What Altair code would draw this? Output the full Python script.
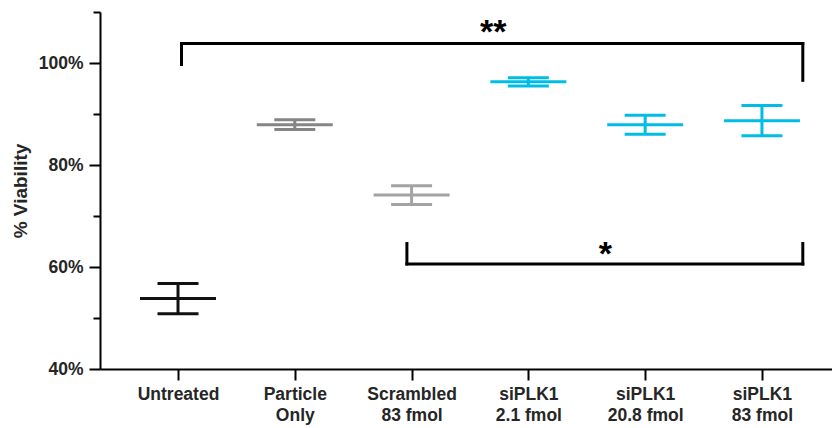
import altair as alt
import pandas as pd

# ---- data ----
groups = [["Untreated"], ["Particle", "Only"], ["Scrambled", "83 fmol"],
          ["siPLK1", "2.1 fmol"], ["siPLK1", "20.8 fmol"], ["siPLK1", "83 fmol"]]
group_ids = ["Untreated", "Particle Only", "Scrambled 83 fmol",
             "siPLK1 2.1 fmol", "siPLK1 20.8 fmol", "siPLK1 83 fmol"]
positions = [0, 1, 2, 3, 4, 5]
means = [53.8, 87.9, 74.1, 96.3, 87.9, 88.7]
sds = [2.95, 0.95, 1.85, 0.8, 1.85, 2.95]
colors = ["#111111", "#858585", "#a3a3a3", "#00bde6", "#00bde6", "#00bde6"]

# significance brackets
br_labels = ["**", "*"]
br_left = [0.03, 1.96]
br_right = [5.35, 5.35]
br_bar = [103.8, 60.6]
br_left_end = [99.7, 64.6]
br_right_end = [96.6, 64.6]
br_text_x = [2.7, 3.66]
br_text_y = [105.8, 62.4]

df = pd.DataFrame({
    "pos": positions,
    "group": group_ids,
    "mean": means,
    "sd": sds,
})
df["lo"] = df["mean"] - df["sd"]
df["hi"] = df["mean"] + df["sd"]

bdf = pd.DataFrame({
    "label": br_labels, "left": br_left, "right": br_right, "bar": br_bar,
    "lend": br_left_end, "rend": br_right_end, "tx": br_text_x, "ty": br_text_y,
})

FONT = "Liberation Sans"
label_expr = "[" + ",".join(
    "[" + ",".join("'" + s + "'" for s in g) + "]" for g in groups
) + "][datum.value]"

xscale = alt.Scale(domain=[-0.668, 5.6], nice=False, zero=False)
yscale = alt.Scale(domain=[40, 110], nice=False, zero=False)
cscale = alt.Scale(domain=group_ids, range=colors)

x_axis = alt.Axis(values=positions, labelExpr=label_expr, title=None,
                  grid=False, domainColor="black", domainWidth=2,
                  tickColor="black", tickWidth=2, tickSize=11,
                  labelFont=FONT, labelFontSize=17.5, labelFontWeight="bold",
                  labelColor="#262626", labelLineHeight=21, labelPadding=5,
                  labelOverlap=False, labelFlush=False, labelBaseline="top")
y_axis = alt.Axis(values=list(range(40, 111, 5)),
                  labelExpr="datum.value % 20 == 0 ? datum.value + '%' : ''",
                  title="% Viability", grid=False,
                  domainColor="black", domainWidth=2,
                  tickColor="black", tickWidth=2,
                  tickSize={"condition": {"test": "datum.value % 20 == 0", "value": 11}, "value": 7},
                  labelFont=FONT, labelFontSize=17.5, labelFontWeight="bold",
                  labelColor="#262626", labelPadding=6,
                  titleFont=FONT, titleFontSize=19, titleFontWeight="bold",
                  titleColor="#262626", titlePadding=8)

base = alt.Chart(df)
color = alt.Color("group:N", scale=cscale, legend=None)

mean_tick = base.mark_tick(orient="horizontal", size=76, thickness=3, opacity=1).encode(
    x=alt.X("pos:Q", scale=xscale, axis=x_axis),
    y=alt.Y("mean:Q", scale=yscale, axis=y_axis),
    color=color,
)
lo_tick = base.mark_tick(orient="horizontal", size=41, thickness=3, opacity=1).encode(
    x=alt.X("pos:Q", scale=xscale), y=alt.Y("lo:Q", scale=yscale), color=color)
hi_tick = base.mark_tick(orient="horizontal", size=41, thickness=3, opacity=1).encode(
    x=alt.X("pos:Q", scale=xscale), y=alt.Y("hi:Q", scale=yscale), color=color)
stem = base.mark_rule(strokeWidth=3, opacity=1).encode(
    x=alt.X("pos:Q", scale=xscale), y=alt.Y("lo:Q", scale=yscale),
    y2="hi:Q", color=color)

bb = alt.Chart(bdf)
bar = bb.mark_rule(strokeWidth=3, color="black", strokeCap="square").encode(
    x=alt.X("left:Q", scale=xscale), x2="right:Q", y=alt.Y("bar:Q", scale=yscale))
leg_l = bb.mark_rule(strokeWidth=3, color="black", strokeCap="square").encode(
    x=alt.X("left:Q", scale=xscale), y=alt.Y("bar:Q", scale=yscale), y2="lend:Q")
leg_r = bb.mark_rule(strokeWidth=3, color="black", strokeCap="square").encode(
    x=alt.X("right:Q", scale=xscale), y=alt.Y("bar:Q", scale=yscale), y2="rend:Q")
stars = bb.mark_text(font=FONT, fontSize=34, fontWeight="bold", color="black",
                     baseline="middle", align="center").encode(
    x=alt.X("tx:Q", scale=xscale), y=alt.Y("ty:Q", scale=yscale), text="label:N")

chart = alt.layer(stem, mean_tick, lo_tick, hi_tick, bar, leg_l, leg_r, stars).properties(
    width=732, height=357,
    autosize=alt.AutoSizeParams(type="none"),
    padding={"left": 100, "top": 12, "right": 0, "bottom": 59},
).configure_view(stroke=None)

chart.save("out.html", embed_options={"renderer": "svg", "actions": False})
